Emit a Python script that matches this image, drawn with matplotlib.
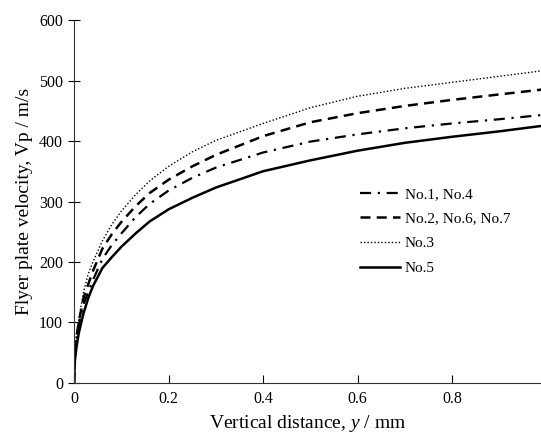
import matplotlib
matplotlib.use("Agg")
import matplotlib.pyplot as plt

plt.rcParams['font.family'] = ['Liberation Serif', 'DejaVu Serif']
plt.rcParams['mathtext.fontset'] = 'custom'
plt.rcParams['mathtext.it'] = 'Liberation Serif:italic'
plt.rcParams['mathtext.rm'] = 'Liberation Serif'

y_dist = [0, 0.002, 0.005, 0.01, 0.02, 0.03, 0.04, 0.06, 0.08, 0.1, 0.13, 0.16,
          0.2, 0.25, 0.3, 0.4, 0.5, 0.6, 0.7, 0.8, 0.9, 0.99]
v_no1_4 = [0, 45, 70, 95, 130, 150, 170, 205, 228, 247, 274, 296,
           318, 339, 356, 381, 399, 411, 421, 429, 436, 443]
v_no2_6_7 = [0, 50, 75, 100, 140, 163, 185, 222, 246, 266, 292, 314,
             336, 358, 377, 408, 431, 446, 458, 468, 477, 485]
v_no3 = [0, 55, 80, 105, 150, 180, 200, 235, 262, 284, 311, 334,
         358, 382, 401, 429, 455, 474, 487, 497, 507, 516]
v_no5 = [0, 38, 58, 82, 115, 140, 160, 190, 208, 225, 247, 267,
         287, 306, 323, 350, 368, 384, 397, 407, 416, 425]
labels = ["No.1, No.4", "No.2, No.6, No.7", "No.3", "No.5"]
x_ticks = [0, 0.2, 0.4, 0.6, 0.8]
x_tick_labels = ["0", "0.2", "0.4", "0.6", "0.8"]
y_ticks = [0, 100, 200, 300, 400, 500, 600]

fig = plt.figure(figsize=(5.41, 4.37), dpi=100)
ax = fig.add_axes([0.1368, 0.1236, 0.8632, 0.8306])

ax.plot(y_dist, v_no1_4, color='black', lw=1.6, linestyle=(0, (5, 3, 1, 3)), label=labels[0])
ax.plot(y_dist, v_no2_6_7, color='black', lw=1.8, linestyle=(0, (4, 2.5)), label=labels[1])
ax.plot(y_dist, v_no3, color='black', lw=1.0, linestyle=(0, (1, 1.5)), label=labels[2])
ax.plot(y_dist, v_no5, color='black', lw=1.8, linestyle='-', label=labels[3])

ax.set_xlim(0, 0.988)
ax.set_ylim(0, 600)
ax.set_xticks(x_ticks)
ax.set_xticklabels(x_tick_labels)
ax.set_yticks(y_ticks)
ax.spines['top'].set_visible(False)
ax.spines['right'].set_visible(False)
for s in ['left', 'bottom']:
    ax.spines[s].set_linewidth(0.8)
    ax.spines[s].set_color('#333333')
ax.tick_params(axis='x', direction='in', length=6, width=0.8, labelsize=11.5, pad=6)
ax.tick_params(axis='y', direction='inout', length=8, width=0.8, labelsize=11.5, pad=4)

ax.set_xlabel(r"Vertical distance, $\mathit{y}$ / mm", fontsize=14, labelpad=4)
ax.set_ylabel("Flyer plate velocity, Vp / m/s", fontsize=14, labelpad=4)

ax.legend(loc='upper left', bbox_to_anchor=(0.6, 0.556), frameon=False,
          fontsize=11, handlelength=2.6, handletextpad=0.3, labelspacing=0.72,
          borderaxespad=0)

fig.savefig("out.png", dpi=100)
